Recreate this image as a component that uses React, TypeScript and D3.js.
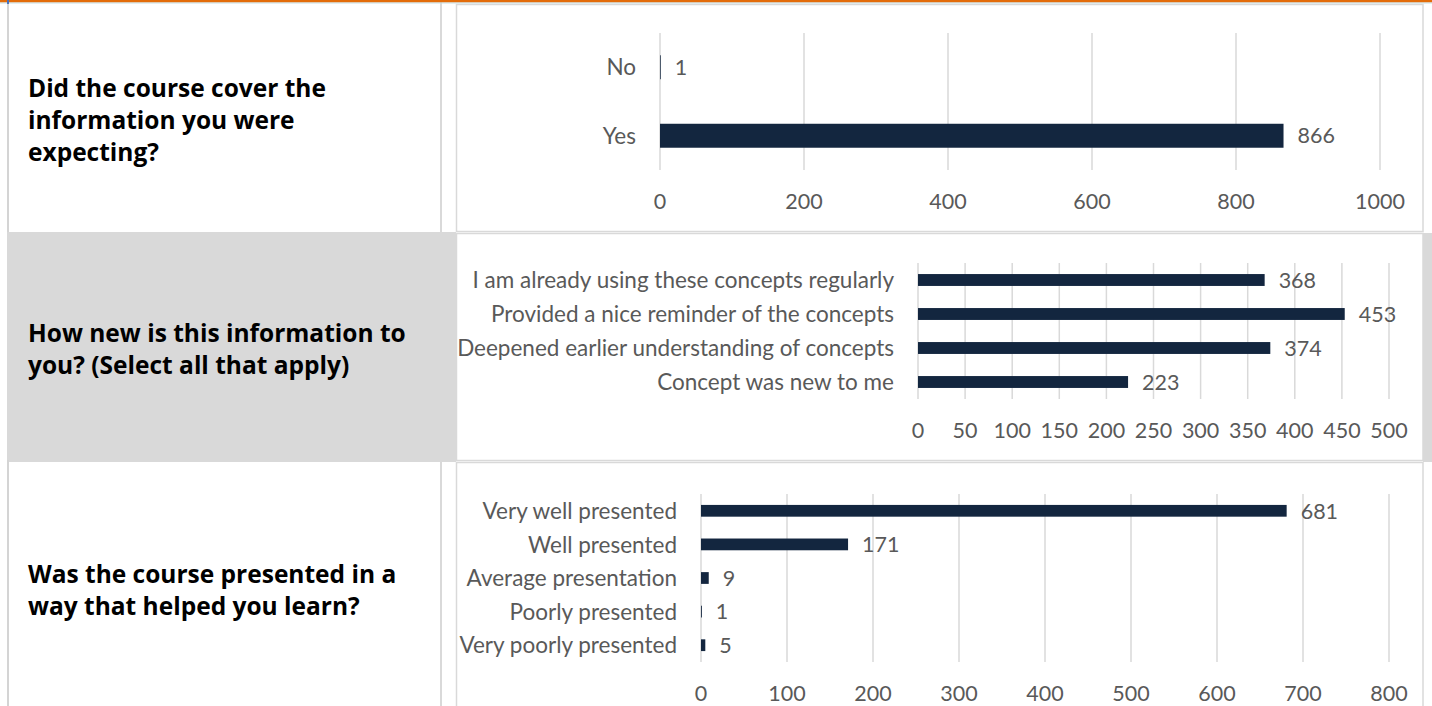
import React, { useEffect, useRef } from 'react';
import * as d3 from 'd3';

// Question 1
const q1Question = ["Did the course cover the", "information you were", "expecting?"];
const q1Categories = ["No", "Yes"];
const q1Values = [1, 866];
const q1Ticks = [0, 200, 400, 600, 800, 1000];

// Question 2
const q2Question = ["How new is this information to", "you? (Select all that apply)"];
const q2Categories = [
  "I am already using these concepts regularly",
  "Provided a nice reminder of the concepts",
  "Deepened earlier understanding of concepts",
  "Concept was new to me",
];
const q2Values = [368, 453, 374, 223];
const q2Ticks = [0, 50, 100, 150, 200, 250, 300, 350, 400, 450, 500];

// Question 3
const q3Question = ["Was the course presented in a", "way that helped you learn?"];
const q3Categories = [
  "Very well presented",
  "Well presented",
  "Average presentation",
  "Poorly presented",
  "Very poorly presented",
];
const q3Values = [681, 171, 9, 1, 5];
const q3Ticks = [0, 100, 200, 300, 400, 500, 600, 700, 800];

const W = 1432;
const H = 706;
const BAR = "#13263f";
const GRID = "#d9d9d9";
const TEXT = "#595959";
const CHART_FONT = "Lato, 'Open Sans', sans-serif";
const LABEL_FONT = "'Open Sans', sans-serif";

interface Panel {
  question: string[];
  categories: string[];
  values: number[];
  ticks: number[];
  rowTop: number;
  rowBottom: number;
  shaded: boolean;
  qMid: number;
  plot: { x0: number; x1: number; y0: number; y1: number };
}

const panels: Panel[] = [
  { question: q1Question, categories: q1Categories, values: q1Values, ticks: q1Ticks,
    rowTop: 4, rowBottom: 232, shaded: false, qMid: 120, plot: { x0: 660, x1: 1380, y0: 33, y1: 170 } },
  { question: q2Question, categories: q2Categories, values: q2Values, ticks: q2Ticks,
    rowTop: 233, rowBottom: 461, shaded: true, qMid: 349, plot: { x0: 918, x1: 1389, y0: 263, y1: 399 } },
  { question: q3Question, categories: q3Categories, values: q3Values, ticks: q3Ticks,
    rowTop: 462, rowBottom: 720, shaded: false, qMid: 590, plot: { x0: 701, x1: 1389, y0: 494, y1: 662 } },
];

const App: React.FC = () => {
  const svgRef = useRef<SVGSVGElement>(null);

  useEffect(() => {
    if (!svgRef.current) return;
    const svg = d3.select(svgRef.current);
    svg.selectAll("*").remove();

    svg.append("rect").attr("width", W).attr("height", H).attr("fill", "#fff");

    // table backgrounds / borders
    panels.forEach(p => {
      if (p.shaded) {
        svg.append("rect")
          .attr("x", 7).attr("y", p.rowTop - 1)
          .attr("width", 456 - 7).attr("height", p.rowBottom - p.rowTop + 2)
          .attr("fill", "#d9d9d9");
        svg.append("rect")
          .attr("x", 1423).attr("y", p.rowTop)
          .attr("width", W - 1423).attr("height", p.rowBottom - p.rowTop + 1)
          .attr("fill", "#d9d9d9");
      } else {
        // left outer border + inner cell divider
        svg.append("line")
          .attr("x1", 8).attr("x2", 8).attr("y1", p.rowTop - 2).attr("y2", p.rowBottom)
          .attr("stroke", "#d4d4d4").attr("stroke-width", 2);
        svg.append("line")
          .attr("x1", 441).attr("x2", 441).attr("y1", p.rowTop - 2).attr("y2", p.rowBottom)
          .attr("stroke", "#d9d9d9").attr("stroke-width", 2);
      }
      // chart frame
      svg.append("rect")
        .attr("x", 456.5).attr("y", p.rowTop + 0.5)
        .attr("width", 1423 - 456.5).attr("height", p.rowBottom - p.rowTop - 1)
        .attr("fill", "#fff")
        .attr("stroke", "#d9d9d9").attr("stroke-width", 1.5);
    });

    // top stripe
    svg.append("rect").attr("x", 0).attr("y", 0).attr("width", W).attr("height", 2.5).attr("fill", "#e36c0a");
    svg.append("rect").attr("x", 0).attr("y", 2.5).attr("width", W).attr("height", 1).attr("fill", "#c6dfe6");
    svg.append("rect").attr("x", 7).attr("y", 0).attr("width", 2).attr("height", 4).attr("fill", "#4472c4");

    panels.forEach(p => {
      const { x0, x1, y0, y1 } = p.plot;

      // question text
      const lineH = 32;
      const q = svg.append("text")
        .attr("x", 28)
        .style("font-family", LABEL_FONT)
        .style("font-weight", 700)
        .style("font-size", "24.5px")
        .style("fill", "#000");
      p.question.forEach((line, i) => {
        q.append("tspan")
          .attr("x", 28)
          .attr("y", p.qMid + (i - (p.question.length - 1) / 2) * lineH)
          .attr("dy", "0.35em")
          .text(line);
      });

      const xScale = d3.scaleLinear()
        .domain([p.ticks[0], p.ticks[p.ticks.length - 1]])
        .range([x0, x1]);
      const yScale = d3.scaleBand<string>()
        .domain(p.categories)
        .range([y0, y1]);
      const barH = yScale.bandwidth() * 0.35;

      const g = svg.append("g");

      // gridlines
      g.selectAll(".grid")
        .data(p.ticks)
        .enter()
        .append("line")
        .attr("x1", d => xScale(d)).attr("x2", d => xScale(d))
        .attr("y1", y0).attr("y2", y1)
        .attr("stroke", GRID).attr("stroke-width", 1.5);

      // bars
      g.selectAll(".bar")
        .data(p.categories)
        .enter()
        .append("rect")
        .attr("x", xScale(0))
        .attr("y", d => (yScale(d) as number) + (yScale.bandwidth() - barH) / 2)
        .attr("width", (d, i) => xScale(p.values[i]) - xScale(0))
        .attr("height", barH)
        .attr("fill", BAR);

      // value labels
      g.selectAll(".val")
        .data(p.categories)
        .enter()
        .append("text")
        .attr("x", (d, i) => xScale(p.values[i]) + 14)
        .attr("y", d => (yScale(d) as number) + yScale.bandwidth() / 2)
        .attr("dy", "0.36em")
        .style("font-family", CHART_FONT)
        .style("font-size", "21.5px")
        .style("fill", TEXT)
        .text((d, i) => String(p.values[i]));

      // category labels
      g.selectAll(".cat")
        .data(p.categories)
        .enter()
        .append("text")
        .attr("x", xScale(0) - 24)
        .attr("y", d => (yScale(d) as number) + yScale.bandwidth() / 2)
        .attr("dy", "0.36em")
        .attr("text-anchor", "end")
        .style("font-family", CHART_FONT)
        .style("font-size", "22.5px")
        .style("fill", TEXT)
        .text(d => d);

      // tick labels
      g.selectAll(".tick")
        .data(p.ticks)
        .enter()
        .append("text")
        .attr("x", d => xScale(d))
        .attr("y", y1 + 31)
        .attr("dy", "0.36em")
        .attr("text-anchor", "middle")
        .style("font-family", CHART_FONT)
        .style("font-size", "21.5px")
        .style("fill", TEXT)
        .text(d => String(d));
    });
  }, []);

  return (
    <svg
      ref={svgRef}
      width={W}
      height={H}
      style={{ position: "absolute", left: 0, top: 0, display: "block" }}
    />
  );
};

export default App;
